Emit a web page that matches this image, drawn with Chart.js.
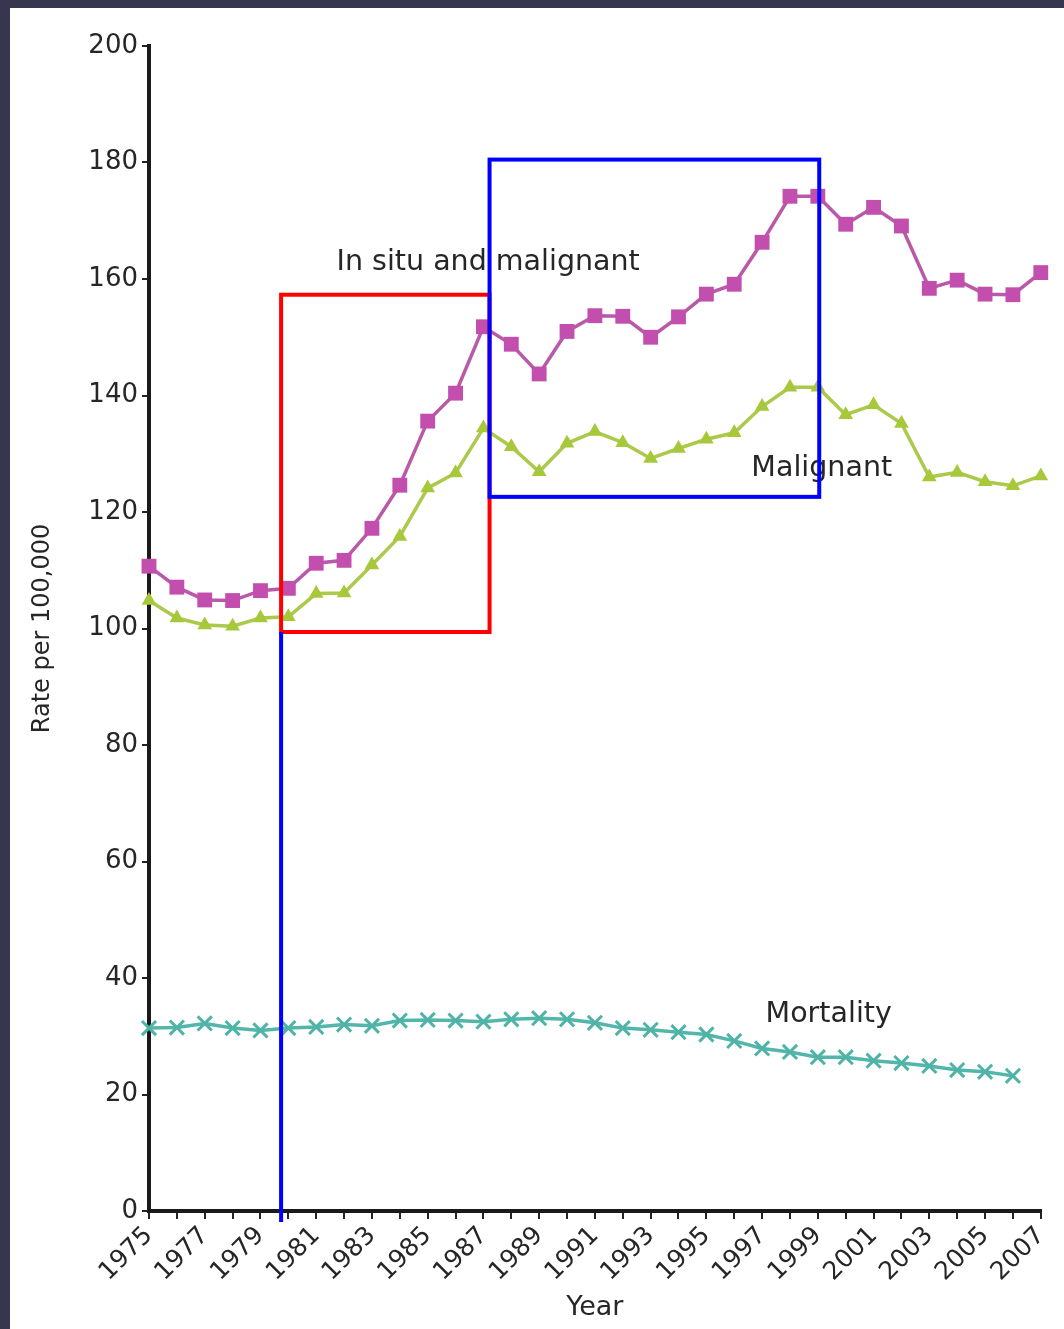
<!DOCTYPE html>
<html>
<head>
<meta charset="utf-8">
<script src="https://cdn.jsdelivr.net/npm/chart.js@4.4.1/dist/chart.umd.min.js"></script>
<style>
  html, body { margin: 0; padding: 0; background: #373650; }
  #wrap { position: absolute; left: 10px; top: 8px; width: 1054px; height: 1321px; background: #fff; }
</style>
</head>
<body>
<div id="wrap"><canvas id="rateChart"></canvas></div>
<script>
// Rates per 100,000, 1975-2007
const years = ['1975', '1976', '1977', '1978', '1979', '1980', '1981', '1982', '1983', '1984', '1985',
  '1986', '1987', '1988', '1989', '1990', '1991', '1992', '1993', '1994', '1995', '1996', '1997',
  '1998', '1999', '2000', '2001', '2002', '2003', '2004', '2005', '2006', '2007'];
const inSituAndMalignant = [110.7, 107.1, 104.9, 104.8, 106.5, 106.9, 111.2, 111.7, 117.2, 124.6, 135.6,
  140.4, 151.8, 148.8, 143.7, 151.0, 153.7, 153.6, 150.0, 153.5, 157.4, 159.1, 166.3,
  174.2, 174.2, 169.4, 172.3, 169.1, 158.4, 159.8, 157.4, 157.3, 161.1];
const malignant = [104.8, 101.8, 100.6, 100.4, 101.8, 102.0, 106.0, 106.1, 110.9, 115.8, 124.1,
  126.7, 134.4, 131.2, 126.9, 131.8, 133.8, 131.9, 129.2, 130.9, 132.5, 133.6, 138.1,
  141.4, 141.4, 136.7, 138.4, 135.2, 126.0, 126.8, 125.2, 124.5, 126.2];
const mortality = [31.4, 31.5, 32.2, 31.4, 31.0, 31.4, 31.6, 32.0, 31.8, 32.7, 32.8,
  32.7, 32.5, 32.9, 33.1, 32.9, 32.3, 31.4, 31.1, 30.7, 30.3, 29.2, 27.9,
  27.3, 26.4, 26.4, 25.8, 25.4, 24.9, 24.2, 23.9, 23.2, null];

const yMin = 0, yMax = 200, yStep = 20;

// labels written on the plot: [text, year, rate]
const seriesLabels = [
  ['In situ and malignant', 1987.17, 162.9],
  ['Malignant', 1999.14, 127.4],
  ['Mortality', 1999.39, 33.8]
];
// highlight marks drawn over the chart: [year0, year1, rate0, rate1]
const redBox = [1979.74, 1987.22, 99.4, 157.3];
const blueBox = [1987.22, 1999.05, 122.6, 180.5];
// vertical line: [year, rateTop, rateBottom]
const blueLine = [1979.74, 99.4, -1.9];

const FONT = '"DejaVu Sans", sans-serif';
const TEXT = '#262626';

const overlay = {
  id: 'overlay',
  afterDatasetsDraw(chart) {
    const { ctx, scales: { x, y } } = chart;
    const px = yr => x.getPixelForValue(yr - Number(years[0]));
    ctx.save();
    ctx.font = '28.5px ' + FONT;
    ctx.fillStyle = TEXT;
    ctx.textAlign = 'center';
    ctx.textBaseline = 'middle';
    seriesLabels.forEach(l => ctx.fillText(l[0], px(l[1]), y.getPixelForValue(l[2])));

    ctx.lineWidth = 4;
    const box = (b, color) => {
      ctx.strokeStyle = color;
      const x0 = px(b[0]), x1 = px(b[1]);
      const y0 = y.getPixelForValue(b[2]), y1 = y.getPixelForValue(b[3]);
      ctx.strokeRect(x0, y1, x1 - x0, y0 - y1);
    };
    box(redBox, '#ff0000');
    box(blueBox, '#0000ff');
    ctx.strokeStyle = '#0000ff';
    ctx.beginPath();
    ctx.moveTo(px(blueLine[0]), y.getPixelForValue(blueLine[1]));
    ctx.lineTo(px(blueLine[0]), y.getPixelForValue(blueLine[2]));
    ctx.stroke();
    ctx.restore();
  }
};

new Chart(document.getElementById('rateChart'), {
  type: 'line',
  data: {
    labels: years,
    datasets: [{
      label: 'Mortality',
      data: mortality,
      borderColor: '#52b6aa',
      borderWidth: 3.5,
      pointStyle: 'crossRot',
      pointRadius: 10,
      pointBorderWidth: 3,
      pointBorderColor: '#4fb3a7',
      clip: false
    }, {
      label: 'Malignant',
      data: malignant,
      borderColor: '#abc94a',
      borderWidth: 3.5,
      pointStyle: 'triangle',
      pointRadius: 8.5,
      pointBorderWidth: 0,
      pointBackgroundColor: '#a6c83a',
      clip: false
    }, {
      label: 'In situ and malignant',
      data: inSituAndMalignant,
      borderColor: '#b85aa8',
      borderWidth: 3.5,
      pointStyle: 'rect',
      pointRadius: 10.5,
      pointBorderWidth: 0,
      pointBackgroundColor: '#c24fae',
      clip: false
    }]
  },
  options: {
    responsive: true,
    maintainAspectRatio: false,
    animation: false,
    layout: { padding: { top: 38, right: 21, bottom: 0, left: 0 } },
    plugins: {
      legend: { display: false },
      tooltip: { enabled: false }
    },
    scales: {
      x: {
        grid: { drawOnChartArea: false, drawTicks: true, tickLength: 8, color: '#222', lineWidth: 2 },
        border: { display: true, color: '#1a1a1a', width: 4 },
        ticks: {
          autoSkip: false,
          minRotation: 45,
          maxRotation: 45,
          padding: 2,
          color: TEXT,
          font: { family: FONT, size: 25 },
          callback: (v, i) => (i % 2 === 0 ? years[i] : '')
        },
        title: {
          display: true,
          text: 'Year',
          color: TEXT,
          font: { family: FONT, size: 27 },
          padding: { top: 0, bottom: 5 }
        },
        afterFit: s => { s.height = 118; }
      },
      y: {
        min: yMin,
        max: yMax,
        grid: { drawOnChartArea: false, drawTicks: true, tickLength: 7, color: '#222', lineWidth: 2 },
        border: { display: true, color: '#1a1a1a', width: 4 },
        ticks: {
          stepSize: yStep,
          padding: 4,
          color: TEXT,
          font: { family: FONT, size: 26 }
        },
        title: {
          display: true,
          text: 'Rate per 100,000',
          color: TEXT,
          font: { family: FONT, size: 24 },
          padding: { top: 18, bottom: 0 }
        },
        afterFit: s => { s.width = 139; }
      }
    }
  },
  plugins: [overlay]
});
</script>
</body>
</html>
